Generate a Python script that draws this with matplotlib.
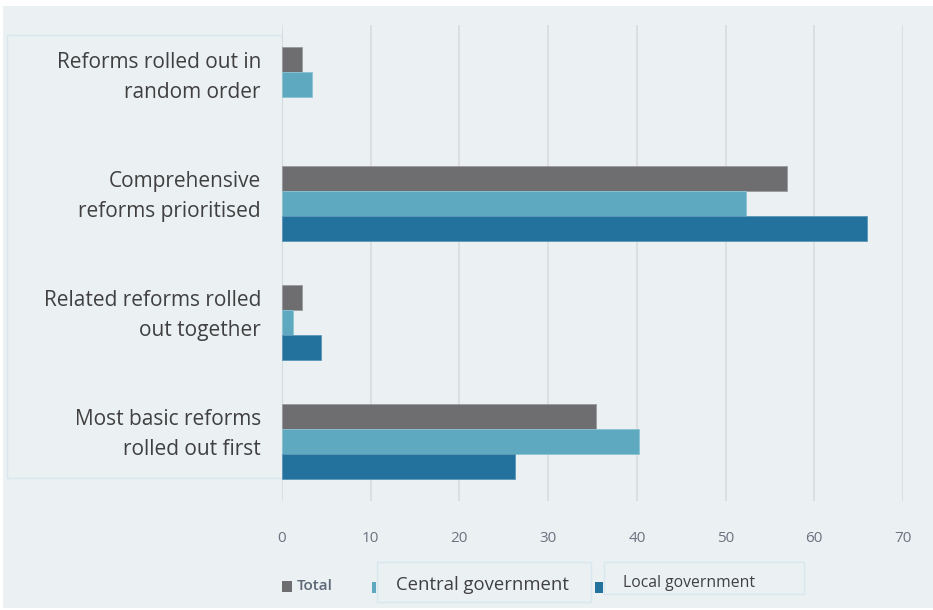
import matplotlib
matplotlib.use("Agg")
import matplotlib.pyplot as plt
from matplotlib.patches import Rectangle
import numpy as np

# Survey results (% of respondents) by reform sequencing approach
categories = [
    "Reforms rolled out in\nrandom order",
    "Comprehensive\nreforms prioritised",
    "Related reforms rolled\nout together",
    "Most basic reforms\nrolled out first",
]
total = [2.25, 56.9, 2.25, 35.4]
central_government = [3.4, 52.3, 1.2, 40.2]
local_government = [0.0, 65.9, 4.4, 26.3]
series_names = ["Total", "Central government", "Local government"]
x_ticks = [0, 10, 20, 30, 40, 50, 60, 70]

colors = ["#6E6E70", "#5FA9C0", "#23729E"]
edge_colors = ["#9A9A9C", "#8CC3D4", "#5C97B8"]
bg = "#EBF0F3"
grid_c = "#D8DADB"
text_c = "#404040"
tick_c = "#6A7380"

plt.rcParams["font.family"] = ["Open Sans", "DejaVu Sans"]

W, H = 933, 610
fig = plt.figure(figsize=(W / 100, H / 100), dpi=100)
fig.patch.set_facecolor("white")


def fx(px):
    return px / W


def fy(py):
    return 1 - py / H


# light panel behind the whole chart
fig.patches.append(Rectangle((fx(3), fy(608)), fx(930) - fx(0), fy(6) - fy(608),
                             transform=fig.transFigure, facecolor=bg,
                             edgecolor="none", zorder=0))
# faint frame around the category labels
fig.patches.append(Rectangle((fx(7), fy(478)), fx(282) - fx(7), fy(35) - fy(478),
                             transform=fig.transFigure, facecolor="none",
                             edgecolor="#D7E7EE", lw=1.0, zorder=1))

ax = fig.add_axes([fx(282), fy(501), fx(903) - fx(282), fy(25) - fy(501)])
ax.set_facecolor("none")
ax.set_zorder(2)

y = np.arange(len(categories))
h = 0.208
for k, vals in enumerate([total, central_government, local_government]):
    bars = ax.barh(y + (k - 1) * h, vals, height=h, color=colors[k],
                   edgecolor=edge_colors[k], linewidth=0.6, zorder=3,
                   label=series_names[k])
    for b, v in zip(bars, vals):
        if v == 0:
            b.set_linewidth(0)

ax.set_xlim(0, 70)
ax.set_ylim(3.5, -0.5)
ax.set_xticks(x_ticks)
ax.set_xticklabels([str(t) for t in x_ticks])
ax.set_yticks([])
ax.grid(axis="x", color=grid_c, lw=1.1, zorder=1)
ax.tick_params(axis="x", length=0, pad=21.5, labelsize=11, labelcolor=tick_c)
for s in ax.spines.values():
    s.set_visible(False)

for i, lab in enumerate(categories):
    ax.annotate(lab, xy=(0, i), xycoords=("axes fraction", "data"),
                xytext=(-21, 7), textcoords="offset pixels",
                ha="right", va="center", fontsize=15, color=text_c,
                linespacing=1.6, multialignment="right")

# legend row
fig.patches.append(Rectangle((fx(282), fy(592)), fx(292) - fx(282), fy(581) - fy(592),
                             transform=fig.transFigure, facecolor=colors[0],
                             edgecolor="none", zorder=2))
fig.text(fx(297), fy(586), series_names[0], ha="left", va="center",
         fontsize=11, color="#5C6876", fontweight="semibold", zorder=3)

fig.patches.append(Rectangle((fx(372), fy(593)), fx(376) - fx(372), fy(582) - fy(593),
                             transform=fig.transFigure, facecolor=colors[1],
                             edgecolor="none", zorder=2))
fig.patches.append(Rectangle((fx(377), fy(602)), fx(591) - fx(377), fy(562) - fy(602),
                             transform=fig.transFigure, facecolor="none",
                             edgecolor="#D7E7EE", lw=1.0, zorder=2))
fig.text(fx(396), fy(585), series_names[1], ha="left", va="center",
         fontsize=13.3, color=text_c, zorder=3)

fig.patches.append(Rectangle((fx(595), fy(593)), fx(603) - fx(595), fy(582) - fy(593),
                             transform=fig.transFigure, facecolor=colors[2],
                             edgecolor="none", zorder=2))
fig.patches.append(Rectangle((fx(604), fy(594)), fx(804) - fx(604), fy(562) - fy(594),
                             transform=fig.transFigure, facecolor="none",
                             edgecolor="#D7E7EE", lw=1.0, zorder=2))
fig.text(fx(623), fy(583), series_names[2], ha="left", va="center",
         fontsize=11.3, color=text_c, zorder=3)

fig.savefig("out.png", dpi=100, facecolor=fig.get_facecolor())
